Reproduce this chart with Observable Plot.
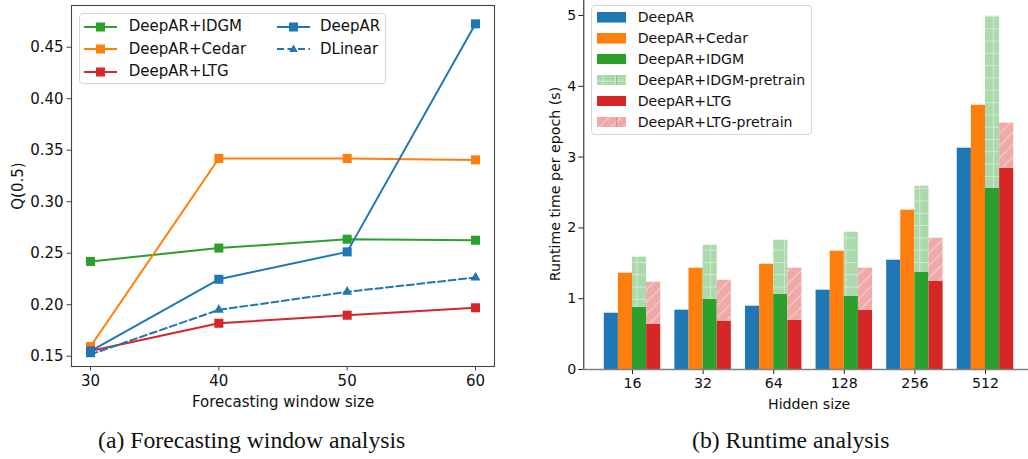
<!DOCTYPE html>
<html><head><meta charset="utf-8">
<script src="https://cdn.jsdelivr.net/npm/d3@7"></script>
<script src="https://cdn.jsdelivr.net/npm/@observablehq/plot@0.6"></script>
<style>
html,body{margin:0;padding:0;background:#fff;overflow:hidden;}
#root{position:relative;width:1028px;height:459px;overflow:hidden;font-family:"DejaVu Sans";}
.chart{position:absolute;}
.legend{position:absolute;border:1px solid #d6d6d6;border-radius:4px;background:rgba(255,255,255,0.8);box-sizing:border-box;}
.item{position:absolute;white-space:nowrap;color:#111;}
.sw{position:absolute;}
.caption{position:absolute;font-family:"Liberation Serif";font-size:23.7px;line-height:23.7px;text-align:center;color:#111;white-space:nowrap;}
</style></head><body><div id="root"></div>
<script>
// ---------- data: (a) forecasting window analysis ----------
const windowSizes = [30, 40, 50, 60];
const qIDGM    = [0.242, 0.255, 0.2636, 0.2626];
const qCedar   = [0.1594, 0.342, 0.342, 0.3406];
const qLTG     = [0.155, 0.182, 0.1898, 0.197];
const qDeepAR  = [0.155, 0.2247, 0.2513, 0.4727];
const qDLinear = [0.1517, 0.195, 0.2125, 0.2264];
const lineSeries = ["DeepAR+IDGM", "DeepAR+Cedar", "DeepAR+LTG", "DeepAR", "DLinear"];
const qTicks = [0.15, 0.20, 0.25, 0.30, 0.35, 0.40, 0.45];

// ---------- data: (b) runtime analysis ----------
const hiddenSizes = [16, 32, 64, 128, 256, 512];
const rtDeepAR   = [0.795, 0.838, 0.894, 1.12, 1.544, 3.126];
const rtCedar    = [1.36, 1.431, 1.487, 1.671, 2.25, 3.732];
const rtIDGM     = [0.88, 0.993, 1.064, 1.035, 1.374, 2.561];
const rtIDGMpre  = [1.587, 1.756, 1.826, 1.939, 2.589, 4.99];   // top of pretrain stack
const rtLTG      = [0.64, 0.678, 0.696, 0.838, 1.247, 2.843];
const rtLTGpre   = [1.233, 1.261, 1.431, 1.431, 1.854, 3.48];   // top of pretrain stack
const rtTicks = [0, 1, 2, 3, 4, 5];
const barSeries = ["DeepAR", "DeepAR+Cedar", "DeepAR+IDGM", "DeepAR+IDGM-pretrain", "DeepAR+LTG", "DeepAR+LTG-pretrain"];

const C = {blue: "#1f77b4", orange: "#ff7f0e", green: "#2ca02c", red: "#d62728", lgreen: "#abd9ab", lred: "#efa9a9"};
const root = document.getElementById("root");

// ================= LEFT CHART =================
const lineColor = {"DeepAR+IDGM": C.green, "DeepAR+Cedar": C.orange, "DeepAR+LTG": C.red, "DeepAR": C.blue, "DLinear": C.blue};
const lineVals = [qIDGM, qCedar, qLTG, qDeepAR, qDLinear];
const lineMarks = [];
lineSeries.forEach((s, i) => {
  const rows = windowSizes.map((w, j) => ({w, q: lineVals[i][j]}));
  const dashed = s === "DLinear";
  lineMarks.push(Plot.line(rows, {x: "w", y: "q", stroke: lineColor[s], strokeWidth: 2, strokeDasharray: dashed ? "7,3.5" : undefined}));
  lineMarks.push(Plot.dot(rows, {x: "w", y: "q", fill: lineColor[s], symbol: dashed ? "triangle" : "square", r: dashed ? 3.7 : 5.1}));
});

const left = Plot.plot({
  width: 520, height: 420, marginLeft: 71, marginRight: 26, marginTop: 5, marginBottom: 54,
  style: {fontFamily: "DejaVu Sans", fontSize: "15px", color: "#111", background: "transparent"},
  x: {domain: [28.52, 61.48]},
  y: {domain: [0.14, 0.4905]},
  marks: [
    Plot.axisX({ticks: windowSizes, tickSize: 4.5, tickPadding: 4, tickFormat: d => String(d), stroke: "#444",
      label: "Forecasting window size", labelAnchor: "center", labelArrow: "none", labelOffset: 40}),
    Plot.axisY({ticks: qTicks, tickSize: 4.5, tickPadding: 3.4, tickFormat: d3.format(".2f"), stroke: "#444",
      label: "Q(0.5)", labelAnchor: "center", labelArrow: "none", labelOffset: 59}),
    ...lineMarks,
    Plot.frame({stroke: "#444", strokeWidth: 1.1})
  ]
});
left.classList.add("chart");
left.style.left = "0px"; left.style.top = "0px";
root.appendChild(left);

// ================= RIGHT CHART =================
const barW = 0.2;
function barRows(vals, k, base) {
  return hiddenSizes.map((h, g) => ({
    x1: g + k * barW - 2 * barW, x2: g + (k + 1) * barW - 2 * barW,
    y1: base ? base[g] : 0, y2: vals[g]
  }));
}
const xDom = [-0.69, 5.694];
const right = Plot.plot({
  width: 514, height: 421, marginLeft: 63.3, marginRight: 0, marginTop: 0, marginBottom: 50,
  style: {fontFamily: "DejaVu Sans", fontSize: "14.2px", color: "#111", background: "transparent"},
  x: {domain: xDom},
  y: {domain: [0, 5.24]},
  marks: [
    Plot.rectY(barRows(rtDeepAR, 0), {x1: "x1", x2: "x2", y1: "y1", y2: "y2", fill: C.blue}),
    Plot.rectY(barRows(rtCedar, 1), {x1: "x1", x2: "x2", y1: "y1", y2: "y2", fill: C.orange}),
    Plot.rectY(barRows(rtIDGM, 2), {x1: "x1", x2: "x2", y1: "y1", y2: "y2", fill: C.green}),
    Plot.rectY(barRows(rtIDGMpre, 2, rtIDGM), {x1: "x1", x2: "x2", y1: "y1", y2: "y2", fill: C.lgreen}),
    Plot.rectY(barRows(rtLTG, 3), {x1: "x1", x2: "x2", y1: "y1", y2: "y2", fill: C.red}),
    Plot.rectY(barRows(rtLTGpre, 3, rtLTG), {x1: "x1", x2: "x2", y1: "y1", y2: "y2", fill: C.lred}),
    Plot.axisX({ticks: d3.range(hiddenSizes.length), tickSize: 5, tickPadding: 3, tickFormat: i => String(hiddenSizes[i]), stroke: "#222",
      label: "Hidden size", labelAnchor: "center", labelArrow: "none", labelOffset: 39.3}),
    Plot.axisY({ticks: rtTicks, tickSize: 5, tickPadding: 2.5, tickFormat: d => String(d), stroke: "#222",
      label: "Runtime time per epoch (s)", labelAnchor: "center", labelArrow: "none", labelOffset: 34.3}),
    Plot.ruleX([xDom[0]], {stroke: "#111", strokeWidth: 1}),
    Plot.ruleY([0], {stroke: "#808080", strokeWidth: 1.6})
  ]
});
right.classList.add("chart");
right.style.left = "520px"; right.style.top = "-2px";
root.appendChild(right);

// hatch patterns
function addPatterns(svg, prefix) {
  const defs = d3.select(svg).insert("defs", ":first-child");
  const s = 12.3;
  const pg = defs.append("pattern").attr("id", prefix + "G").attr("patternUnits", "userSpaceOnUse").attr("width", s).attr("height", s);
  pg.append("rect").attr("width", s).attr("height", s).attr("fill", C.lgreen);
  pg.append("path").attr("d", `M0,${s/2}H${s}M${s/2},0V${s}`).attr("stroke", "rgba(255,255,255,0.45)").attr("stroke-width", 1).attr("fill", "none");
  const pr = defs.append("pattern").attr("id", prefix + "R").attr("patternUnits", "userSpaceOnUse").attr("width", s).attr("height", s);
  pr.append("rect").attr("width", s).attr("height", s).attr("fill", C.lred);
  pr.append("path").attr("d", `M0,${s}L${s},0M${-s/2},${s/2}L${s/2},${-s/2}M${s/2},${s*1.5}L${s*1.5},${s/2}`).attr("stroke", "rgba(255,255,255,0.5)").attr("stroke-width", 1).attr("fill", "none");
}
addPatterns(right, "hatch");
d3.select(right).selectAll(`g[fill="${C.lgreen}"]`).attr("fill", "url(#hatchG)");
d3.select(right).selectAll(`g[fill="${C.lred}"]`).attr("fill", "url(#hatchR)");

// ================= LEGENDS =================
function el(tag, cls, parent) { const e = document.createElement(tag); if (cls) e.className = cls; parent.appendChild(e); return e; }
const NS = "http://www.w3.org/2000/svg";

// left legend
const lg = el("div", "legend", root);
Object.assign(lg.style, {left: "78.7px", top: "13.3px", width: "307px", height: "71px"});
const lgPos = [[4.3, 49, 12.4], [4.3, 49, 35.1], [4.3, 49, 57.7], [197, 240.3, 12.4], [197, 240.3, 35.1]];
lineSeries.forEach((s, i) => {
  const [sx, tx, cy] = lgPos[i];
  const dashed = s === "DLinear";
  const svg = document.createElementNS(NS, "svg");
  svg.setAttribute("width", 33); svg.setAttribute("height", 14);
  svg.setAttribute("class", "sw");
  svg.style.left = sx + "px"; svg.style.top = (cy - 7) + "px";
  svg.innerHTML = `<line x1="0" x2="33" y1="7" y2="7" stroke="${lineColor[s]}" stroke-width="2" ${dashed ? 'stroke-dasharray="7,3.5"' : ''}/>` +
    (dashed ? `<path d="M16.5,2.6L20.8,10L12.2,10Z" fill="${lineColor[s]}"/>` : `<rect x="12" y="2.5" width="9" height="9" fill="${lineColor[s]}"/>`);
  lg.appendChild(svg);
  const t = el("div", "item", lg);
  Object.assign(t.style, {left: tx + "px", top: (cy - 7.5) + "px", fontSize: "15px", lineHeight: "15px"});
  t.textContent = s;
});

// right legend
const rg = el("div", "legend", root);
Object.assign(rg.style, {left: "590.7px", top: "4.7px", width: "221.6px", height: "130.3px"});
const swFill = {"DeepAR": C.blue, "DeepAR+Cedar": C.orange, "DeepAR+IDGM": C.green, "DeepAR+IDGM-pretrain": "url(#lgG)", "DeepAR+LTG": C.red, "DeepAR+LTG-pretrain": "url(#lgR)"};
barSeries.forEach((s, i) => {
  const cy = 11.6 + i * 20.94;
  const svg = document.createElementNS(NS, "svg");
  svg.setAttribute("width", 29); svg.setAttribute("height", 10.6);
  svg.setAttribute("class", "sw");
  svg.style.left = "5.3px"; svg.style.top = (cy - 5.3) + "px";
  const r = document.createElementNS(NS, "rect");
  r.setAttribute("width", 29); r.setAttribute("height", 10.6); r.setAttribute("fill", swFill[s]);
  svg.appendChild(r);
  if (s.endsWith("pretrain")) {
    addPatterns(svg, "lg");
    const ln = document.createElementNS(NS, "line");
    ln.setAttribute("x1", 19.5); ln.setAttribute("x2", 19.5); ln.setAttribute("y1", 0); ln.setAttribute("y2", 10.6);
    ln.setAttribute("stroke", s.includes("IDGM") ? "#8cc68c" : "#e08c8c"); ln.setAttribute("stroke-width", 1);
    svg.appendChild(ln);
  }
  rg.appendChild(svg);
  const t = el("div", "item", rg);
  Object.assign(t.style, {left: "46px", top: (cy - 7.05) + "px", fontSize: "14.1px", lineHeight: "14.1px"});
  t.textContent = s;
});

// ================= CAPTIONS =================
const ca = el("div", "caption", root);
Object.assign(ca.style, {left: (251.7 - 250) + "px", width: "500px", top: "429px"});
ca.textContent = "(a) Forecasting window analysis";
const cb = el("div", "caption", root);
Object.assign(cb.style, {left: (790.7 - 250) + "px", width: "500px", top: "429px"});
cb.textContent = "(b) Runtime analysis";
</script></body></html>
